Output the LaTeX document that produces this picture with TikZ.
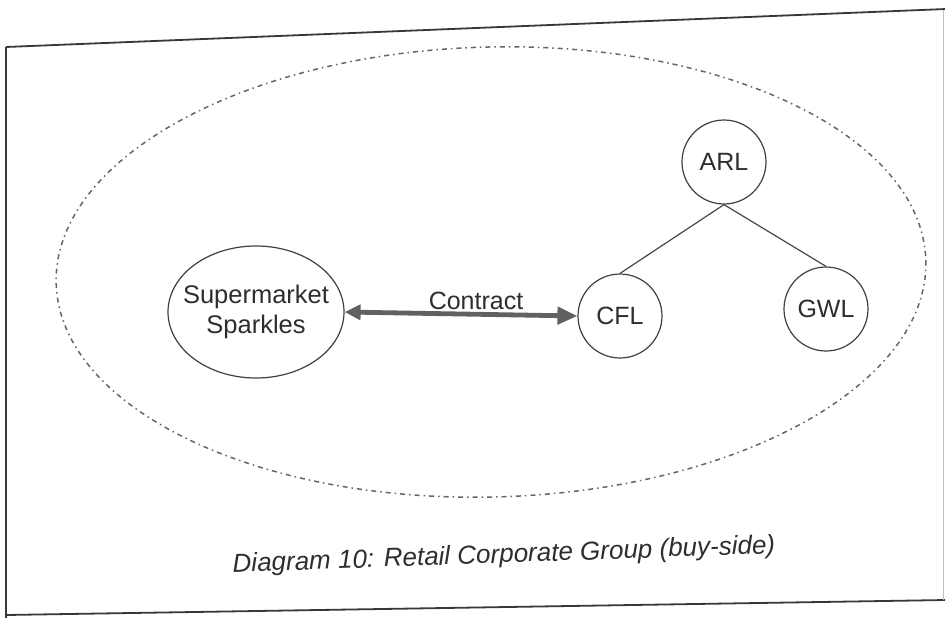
\documentclass[tikz,border=0pt]{standalone}
\usepackage{fontspec}
\setmainfont{Liberation Sans}
\usetikzlibrary{arrows.meta,shapes.geometric}
\begin{document}
\begin{tikzpicture}[x=1pt,y=-1pt,
  frameline/.style={draw=black!78, line width=1.8pt},
  groupline/.style={draw=black!60, line width=1.5pt,
    dash pattern=on 5pt off 4pt on 1.5pt off 4pt},
  entity/.style={circle, draw=black!75, line width=1.2pt, minimum size=84pt,
    inner sep=0pt, text=black!82, font=\fontsize{25}{30}\selectfont},
  bigentity/.style={ellipse, draw=black!75, line width=1.2pt,
    minimum width=176pt, minimum height=132pt, inner xsep=-16pt, inner ysep=0pt,
    align=center, text=black!82, font=\fontsize{25.5}{30}\selectfont},
  tie/.style={draw=black!72, line width=1.2pt},
  deal/.style={draw=black!62, line width=4.8pt,
    {Triangle[length=16pt,width=15pt]}-{Triangle[length=20pt,width=17pt]}},
  lbl/.style={text=black!82, font=\fontsize{25}{30}\selectfont}]
\useasboundingbox (0,0) rectangle (945,618);
\fill[white] (0,0) rectangle (945,618);

% outer frame
\draw[frameline] (6,47) -- (946,9);
\draw[frameline] (6,47) -- (6,619);
\draw[frameline] (6,615) -- (946,600);
\draw[draw=black!25, line width=1pt] (943,10) -- (943,600);

% corporate group boundary
\draw[groupline, rotate around={1.5:(491,272)}] (491,272) ellipse [x radius=435, y radius=225];

% entities
\node[bigentity] (sm) at (256,312) {Supermarket\\Sparkles};
\node[entity] (arl) at (724,162) {ARL};
\node[entity] (cfl) at (620,316) {CFL};
\node[entity] (gwl) at (826,309) {GWL};

% ownership
\draw[tie] (arl.south) -- (cfl.north);
\draw[tie] (arl.south) -- (gwl.north);

% contract
\draw[deal] (sm.east) -- (cfl.west);
\node[lbl] (ct) at (476,301) {Contract};

% caption
\node[rotate=2, text=black!82, font=\itshape\fontsize{26}{31}\selectfont] (cap) at (504,556)
  {Diagram 10: Retail Corporate Group (buy-side)};
\end{tikzpicture}
\end{document}
